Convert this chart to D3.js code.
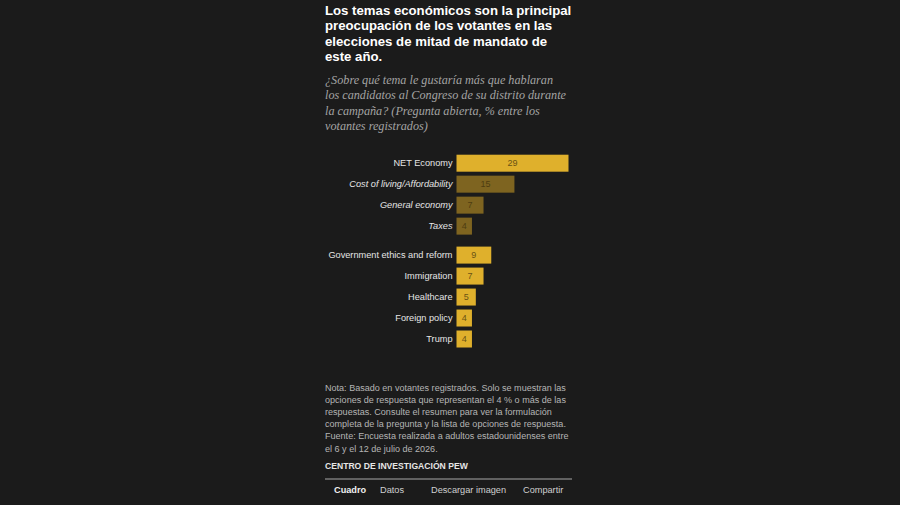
<!DOCTYPE html>
<html>
<head>
<meta charset="utf-8">
<script src="https://cdn.jsdelivr.net/npm/d3@7"></script>
<style>
  html, body { margin: 0; padding: 0; background: #1b1b1b; }
  svg { display: block; }
</style>
</head>
<body>
<svg id="chart" width="900" height="505"></svg>
<script>
const categories = ["NET Economy", "Cost of living/Affordability", "General economy", "Taxes",
  "Government ethics and reform", "Immigration", "Healthcare", "Foreign policy", "Trump"];
const values = [29, 15, 7, 4, 9, 7, 5, 4, 4];
const groups = [0, 0, 0, 0, 1, 1, 1, 1, 1];
const isSub = [false, true, true, true, false, false, false, false, false];

const titleLines = ["Los temas económicos son la principal",
  "preocupación de los votantes en las",
  "elecciones de mitad de mandato de",
  "este año."];
const subtitleLines = ["¿Sobre qué tema le gustaría más que hablaran",
  "los candidatos al Congreso de su distrito durante",
  "la campaña? (Pregunta abierta, % entre los",
  "votantes registrados)"];
const noteLines = ["Nota: Basado en votantes registrados. Solo se muestran las",
  "opciones de respuesta que representan el 4 % o más de las",
  "respuestas. Consulte el resumen para ver la formulación",
  "completa de la pregunta y la lista de opciones de respuesta.",
  "Fuente: Encuesta realizada a adultos estadounidenses entre",
  "el 6 y el 12 de julio de 2026."];
const sourceLabel = "CENTRO DE INVESTIGACIÓN PEW";
const footerItems = ["Cuadro", "Datos", "Descargar imagen", "Compartir"];

const svg = d3.select("#chart");
const sans = "'Liberation Sans', Arial, sans-serif";
const serif = "'Liberation Serif', 'Times New Roman', serif";
const left = 325;

// Title
svg.append("text")
  .attr("font-family", sans).attr("font-weight", "bold").attr("font-size", 13.2)
  .attr("fill", "#ffffff")
  .selectAll("tspan").data(titleLines).join("tspan")
  .attr("x", left).attr("y", (d, i) => 15 + i * 15.4).text(d => d);

// Subtitle
svg.append("text")
  .attr("font-family", serif).attr("font-style", "italic").attr("font-size", 12.2)
  .attr("fill", "#a3a3a3")
  .selectAll("tspan").data(subtitleLines).join("tspan")
  .attr("x", left).attr("y", (d, i) => 84 + i * 15.4).text(d => d);

// Scales
const x = d3.scaleLinear().domain([0, d3.max(values)]).range([456.5, 568.5]);
const y = d3.scaleBand().domain(categories).range([154.7, 154.7 + 21 * 8.8]).paddingInner(0.19);
const groupGap = 8;
const yPos = (d, i) => y(d) + groups[i] * groupGap;

const gold = "#dfb02c";
const dimGold = "#7e6420";

const rows = svg.append("g").selectAll("g").data(categories).join("g")
  .attr("transform", (d, i) => `translate(0,${yPos(d, i)})`);

rows.append("rect")
  .attr("x", x(0))
  .attr("width", (d, i) => x(values[i]) - x(0))
  .attr("height", y.bandwidth())
  .attr("fill", (d, i) => isSub[i] ? dimGold : gold);

rows.append("text")
  .attr("x", (d, i) => (x(0) + x(values[i])) / 2)
  .attr("y", y.bandwidth() / 2 + 3.2)
  .attr("text-anchor", "middle")
  .attr("font-family", sans).attr("font-size", 9)
  .attr("fill", (d, i) => isSub[i] ? "#4e3d10" : "#6a5314")
  .text((d, i) => values[i]);

rows.append("text")
  .attr("x", x(0) - 4)
  .attr("y", y.bandwidth() / 2 + 3.3)
  .attr("text-anchor", "end")
  .attr("font-family", sans).attr("font-size", 9.2)
  .attr("font-style", (d, i) => isSub[i] ? "italic" : "normal")
  .attr("fill", "#e6e6e6")
  .text(d => d);

// Note
svg.append("text")
  .attr("font-family", sans).attr("font-size", 9.05)
  .attr("fill", "#b5b5b5")
  .selectAll("tspan").data(noteLines).join("tspan")
  .attr("x", left).attr("y", (d, i) => 390.5 + i * 12.2).text(d => d);

svg.append("text")
  .attr("x", left).attr("y", 469)
  .attr("font-family", sans).attr("font-weight", "bold").attr("font-size", 8.6)
  .attr("fill", "#e6e6e6").text(sourceLabel);

svg.append("line")
  .attr("x1", left).attr("x2", 572).attr("y1", 479).attr("y2", 479)
  .attr("stroke", "#7a7a7a").attr("stroke-width", 1.5);

const footerX = [334, 380, 431, 523];
svg.append("g").selectAll("text").data(footerItems).join("text")
  .attr("x", (d, i) => footerX[i]).attr("y", 492.5)
  .attr("font-family", sans).attr("font-size", 9.2)
  .attr("font-weight", (d, i) => i === 0 ? "bold" : "normal")
  .attr("fill", (d, i) => i === 0 ? "#f0f0f0" : "#d0d0d0")
  .text(d => d);
</script>
</body>
</html>
